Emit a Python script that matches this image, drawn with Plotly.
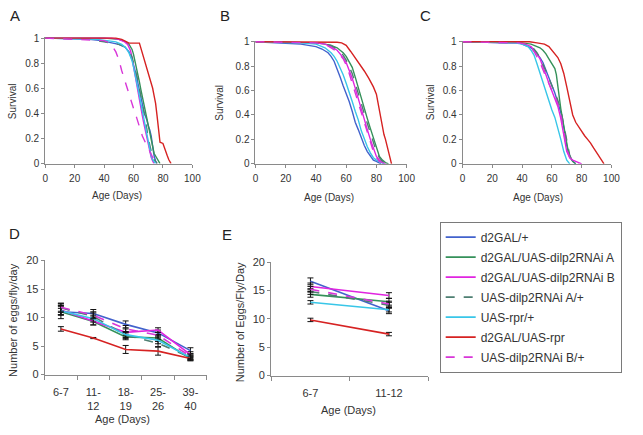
import plotly.graph_objects as go

# ---------------- legend / styles ----------------
names = ["d2GAL/+", "d2GAL/UAS-dilp2RNAi A", "d2GAL/UAS-dilp2RNAi B",
         "UAS-dilp2RNAi A/+", "UAS-rpr/+", "d2GAL/UAS-rpr", "UAS-dilp2RNAi B/+"]
colors = ["#4262CC", "#35915A", "#E024E0", "#4E7F72", "#38C6E8", "#D62222", "#D836D8"]
dashes = ["solid", "solid", "solid", "dash", "solid", "solid", "dash"]

# ---------------- Panel A survival ----------------
A_blue_age = [0, 30, 38, 42, 46, 50, 54, 57, 59, 61, 62, 63, 64, 65, 66, 67, 68, 69, 70, 71, 72, 73, 74, 75, 76]
A_blue_surv = [1, 0.99, 0.98, 0.97, 0.96, 0.95, 0.93, 0.89, 0.83, 0.75, 0.7, 0.64, 0.58, 0.52, 0.46, 0.42, 0.38, 0.35, 0.3, 0.27, 0.22, 0.12, 0.06, 0.02, 0]
A_green_age = [0, 40, 50, 55, 57, 59, 60, 61, 62, 63, 64, 65, 66, 67, 68, 69, 70, 71, 72, 73, 74, 75, 76, 77, 78]
A_green_surv = [1, 1, 0.99, 0.97, 0.95, 0.91, 0.87, 0.82, 0.76, 0.71, 0.65, 0.59, 0.53, 0.48, 0.43, 0.37, 0.3, 0.23, 0.17, 0.12, 0.08, 0.06, 0.04, 0.02, 0]
A_mag_age = [0, 45, 50, 54, 56, 58, 59, 60, 61, 62, 63, 64, 65, 66, 67, 68, 69, 70, 71, 72, 73, 74]
A_mag_surv = [1, 1, 0.99, 0.97, 0.95, 0.9, 0.84, 0.77, 0.7, 0.63, 0.56, 0.5, 0.44, 0.38, 0.32, 0.26, 0.2, 0.14, 0.09, 0.05, 0.02, 0]
A_tealdash_age = [0, 30, 40, 45, 50, 54, 57, 59, 61, 63, 64, 65, 66, 67, 68, 69, 70, 71, 72, 73, 74, 76]
A_tealdash_surv = [1, 0.99, 0.97, 0.96, 0.95, 0.93, 0.9, 0.85, 0.76, 0.66, 0.6, 0.54, 0.48, 0.42, 0.36, 0.28, 0.2, 0.14, 0.1, 0.07, 0.03, 0]
A_cyan_age = [0, 35, 42, 48, 52, 55, 57, 59, 60, 61, 62, 63, 64, 65, 66, 67, 68, 69, 70, 71, 72, 73, 74, 75]
A_cyan_surv = [1, 0.99, 0.98, 0.97, 0.95, 0.92, 0.88, 0.82, 0.77, 0.72, 0.66, 0.6, 0.54, 0.48, 0.42, 0.36, 0.3, 0.24, 0.17, 0.11, 0.06, 0.03, 0.01, 0]
A_red_age = [0, 48, 52, 55, 57, 64, 65, 66, 67, 68, 69, 70, 71, 72, 73, 74, 75, 76, 77, 78, 80, 81, 82, 83, 84, 85.5]
A_red_surv = [1, 1, 0.99, 0.97, 0.96, 0.96, 0.92, 0.88, 0.85, 0.82, 0.78, 0.74, 0.69, 0.64, 0.6, 0.54, 0.48, 0.38, 0.25, 0.17, 0.16, 0.12, 0.09, 0.06, 0.03, 0]
A_magdash_age = [0, 20, 40, 44, 46, 48, 50, 52, 54, 56, 58, 60, 62, 64, 66, 68, 70, 72, 74, 75]
A_magdash_surv = [1, 0.99, 0.98, 0.96, 0.93, 0.89, 0.83, 0.74, 0.66, 0.58, 0.51, 0.44, 0.37, 0.3, 0.22, 0.17, 0.12, 0.07, 0.02, 0]

# ---------------- Panel B survival ----------------
B_blue_age = [0, 20, 30, 40, 44, 48, 50, 52, 54, 56, 58, 60, 62, 64, 66, 68, 70, 72, 74, 76, 78, 80, 82, 83]
B_blue_surv = [1, 0.99, 0.98, 0.96, 0.94, 0.91, 0.88, 0.84, 0.78, 0.71, 0.64, 0.58, 0.51, 0.43, 0.34, 0.28, 0.21, 0.15, 0.1, 0.06, 0.03, 0.02, 0.01, 0]
B_green_age = [0, 40, 46, 50, 54, 58, 60, 62, 64, 66, 68, 70, 72, 74, 76, 78, 80, 82, 84, 86, 88]
B_green_surv = [1, 0.99, 0.98, 0.97, 0.95, 0.91, 0.88, 0.84, 0.79, 0.71, 0.62, 0.54, 0.45, 0.37, 0.29, 0.21, 0.12, 0.06, 0.03, 0.01, 0]
B_mag_age = [0, 40, 46, 50, 54, 58, 60, 62, 64, 66, 68, 70, 72, 74, 76, 78, 80, 82, 84, 86]
B_mag_surv = [1, 0.99, 0.98, 0.96, 0.93, 0.87, 0.83, 0.77, 0.7, 0.62, 0.53, 0.45, 0.36, 0.28, 0.2, 0.12, 0.06, 0.03, 0.01, 0]
B_tealdash_age = [0, 40, 46, 50, 54, 58, 60, 62, 64, 66, 68, 70, 72, 74, 76, 78, 80, 82, 84, 86]
B_tealdash_surv = [1, 0.99, 0.98, 0.97, 0.94, 0.89, 0.85, 0.8, 0.74, 0.66, 0.57, 0.49, 0.41, 0.33, 0.25, 0.17, 0.1, 0.05, 0.02, 0]
B_cyan_age = [0, 30, 40, 46, 50, 52, 54, 56, 58, 60, 62, 64, 66, 68, 70, 72, 74, 76, 78, 80, 82, 84, 85]
B_cyan_surv = [1, 0.99, 0.98, 0.95, 0.91, 0.88, 0.84, 0.79, 0.73, 0.66, 0.59, 0.51, 0.43, 0.36, 0.27, 0.2, 0.14, 0.09, 0.05, 0.03, 0.02, 0.01, 0]
B_red_age = [0, 50, 54, 57, 60, 63, 66, 69, 72, 75, 78, 80, 81, 82, 83, 84, 85, 86, 87, 88, 89, 90]
B_red_surv = [1, 1, 0.995, 0.99, 0.97, 0.92, 0.87, 0.82, 0.76, 0.7, 0.63, 0.57, 0.5, 0.42, 0.35, 0.29, 0.24, 0.2, 0.15, 0.1, 0.05, 0]
B_magdash_age = [0, 40, 46, 50, 54, 58, 60, 62, 64, 66, 68, 70, 72, 74, 76, 78, 80, 82, 84, 86]
B_magdash_surv = [1, 0.99, 0.98, 0.95, 0.92, 0.86, 0.81, 0.74, 0.66, 0.58, 0.5, 0.42, 0.34, 0.26, 0.18, 0.1, 0.05, 0.02, 0.01, 0]

# ---------------- Panel C survival ----------------
C_blue_age = [0, 38, 42, 46, 48, 50, 52, 54, 56, 58, 60, 62, 64, 66, 68, 70, 72, 74, 76]
C_blue_surv = [1, 0.99, 0.97, 0.95, 0.93, 0.9, 0.87, 0.83, 0.77, 0.71, 0.65, 0.58, 0.5, 0.42, 0.3, 0.15, 0.06, 0.02, 0]
C_green_age = [0, 40, 46, 50, 52, 54, 56, 58, 60, 62, 63, 64, 65, 66, 67, 68, 69, 70, 71, 72, 74, 76]
C_green_surv = [1, 0.99, 0.98, 0.96, 0.95, 0.93, 0.9, 0.86, 0.82, 0.78, 0.73, 0.62, 0.52, 0.45, 0.38, 0.31, 0.23, 0.15, 0.1, 0.06, 0.02, 0]
C_mag_age = [0, 38, 42, 46, 48, 50, 52, 54, 56, 58, 60, 62, 64, 66, 67, 68, 69, 70, 72, 74, 76, 78, 80]
C_mag_surv = [1, 0.99, 0.98, 0.96, 0.93, 0.9, 0.86, 0.8, 0.73, 0.66, 0.6, 0.54, 0.47, 0.37, 0.3, 0.22, 0.15, 0.1, 0.05, 0.03, 0.02, 0.01, 0]
C_tealdash_age = [0, 38, 42, 46, 48, 50, 52, 54, 56, 58, 60, 62, 64, 66, 68, 70, 72, 74, 76]
C_tealdash_surv = [1, 0.99, 0.98, 0.96, 0.94, 0.91, 0.87, 0.82, 0.76, 0.7, 0.64, 0.58, 0.52, 0.44, 0.32, 0.18, 0.07, 0.02, 0]
C_cyan_age = [0, 35, 40, 44, 46, 48, 50, 52, 54, 56, 58, 60, 62, 64, 66, 68, 70, 72]
C_cyan_surv = [1, 0.99, 0.98, 0.96, 0.93, 0.89, 0.82, 0.74, 0.66, 0.58, 0.51, 0.44, 0.38, 0.3, 0.2, 0.1, 0.03, 0]
C_red_age = [0, 45, 50, 55, 58, 60, 62, 64, 66, 68, 70, 72, 74, 76, 78, 80, 82, 84, 86, 88, 90, 92, 94, 95]
C_red_surv = [1, 1, 0.99, 0.98, 0.96, 0.93, 0.9, 0.87, 0.82, 0.74, 0.63, 0.5, 0.4, 0.34, 0.3, 0.27, 0.23, 0.2, 0.17, 0.13, 0.09, 0.05, 0.02, 0]
C_magdash_age = [0, 38, 42, 46, 48, 50, 52, 54, 56, 58, 60, 62, 64, 66, 68, 70, 72, 74, 76, 78]
C_magdash_surv = [1, 0.99, 0.98, 0.95, 0.92, 0.88, 0.83, 0.77, 0.71, 0.65, 0.6, 0.55, 0.49, 0.4, 0.25, 0.12, 0.05, 0.02, 0.01, 0]

# ---------------- Panel D fecundity ----------------
D_cats = ["6-7", "11-12", "18-19", "25-26", "39-40"]
D_ticktext = ["6-7", "11-<br>12", "18-<br>19", "25-<br>26", "39-<br>40"]
D_blue = [11.0, 10.7, 8.8, 7.3, 4.2]
D_blue_err = [0.6, 0.7, 0.6, 0.5, 0.5]
D_green = [11.0, 9.3, 6.6, 6.4, 2.8]
D_green_err = [1.2, 0.6, 0.5, 0.6, 0.4]
D_mag = [11.3, 9.4, 7.4, 7.8, 3.5]
D_mag_err = [0.8, 0.7, 0.6, 0.4, 0.5]
D_tealdash = [11.7, 10.2, 6.9, 5.5, 3.0]
D_tealdash_err = [0.8, 0.6, 0.6, 0.6, 0.4]
D_cyan = [11.2, 9.8, 7.0, 6.0, 3.0]
D_cyan_err = [0.7, 0.6, 0.5, 0.6, 0.4]
D_red = [8.0, 6.4, 4.4, 4.1, 2.8]
D_red_err = [0.4, 0.1, 0.7, 0.7, 0.3]
D_magdash = [11.8, 10.4, 8.0, 6.9, 3.2]
D_magdash_err = [0.7, 0.6, 0.6, 0.5, 0.4]

# ---------------- Panel E fecundity ----------------
E_cats = ["6-7", "11-12"]
E_blue = [16.6, 11.4]
E_blue_err = [0.6, 0.5]
E_green = [14.3, 13.0]
E_green_err = [0.5, 0.6]
E_mag = [15.7, 14.1]
E_mag_err = [0.6, 0.5]
E_tealdash = [14.8, 12.4]
E_tealdash_err = [0.5, 0.5]
E_cyan = [12.9, 11.6]
E_cyan_err = [0.3, 0.4]
E_red = [9.8, 7.3]
E_red_err = [0.3, 0.3]
E_magdash = [15.2, 12.6]
E_magdash_err = [0.5, 0.5]

# ---------------- figure ----------------
W, H = 643, 435
FONT = "Liberation Sans, Arial, sans-serif"
fig = go.Figure()

surv_sets = {
    "A": [(A_blue_age, A_blue_surv), (A_green_age, A_green_surv), (A_mag_age, A_mag_surv),
          (A_tealdash_age, A_tealdash_surv), (A_cyan_age, A_cyan_surv), (A_red_age, A_red_surv),
          (A_magdash_age, A_magdash_surv)],
    "B": [(B_blue_age, B_blue_surv), (B_green_age, B_green_surv), (B_mag_age, B_mag_surv),
          (B_tealdash_age, B_tealdash_surv), (B_cyan_age, B_cyan_surv), (B_red_age, B_red_surv),
          (B_magdash_age, B_magdash_surv)],
    "C": [(C_blue_age, C_blue_surv), (C_green_age, C_green_surv), (C_mag_age, C_mag_surv),
          (C_tealdash_age, C_tealdash_surv), (C_cyan_age, C_cyan_surv), (C_red_age, C_red_surv),
          (C_magdash_age, C_magdash_surv)],
}
axis_ids = {"A": ("x", "y"), "B": ("x2", "y2"), "C": ("x3", "y3")}
for panel, series in surv_sets.items():
    xa, ya = axis_ids[panel]
    for i, (ages, surv) in enumerate(series):
        fig.add_trace(go.Scatter(
            x=ages, y=surv, mode="lines",
            line=dict(color=colors[i], width=1.4, dash=dashes[i]),
            xaxis=xa, yaxis=ya, showlegend=False, hoverinfo="skip"))

D_series = [(D_blue, D_blue_err), (D_green, D_green_err), (D_mag, D_mag_err),
            (D_tealdash, D_tealdash_err), (D_cyan, D_cyan_err), (D_red, D_red_err),
            (D_magdash, D_magdash_err)]
for i, (vals, errs) in enumerate(D_series):
    fig.add_trace(go.Scatter(
        x=D_cats, y=vals, mode="lines", name=names[i], legendgroup=names[i],
        line=dict(color=colors[i], width=1.6, dash=dashes[i]),
        error_y=dict(type="data", array=errs, color="#111111", thickness=1, width=3),
        xaxis="x4", yaxis="y4", showlegend=True))

E_series = [(E_blue, E_blue_err), (E_green, E_green_err), (E_mag, E_mag_err),
            (E_tealdash, E_tealdash_err), (E_cyan, E_cyan_err), (E_red, E_red_err),
            (E_magdash, E_magdash_err)]
for i, (vals, errs) in enumerate(E_series):
    fig.add_trace(go.Scatter(
        x=E_cats, y=vals, mode="lines", name=names[i], legendgroup=names[i],
        line=dict(color=colors[i], width=1.6, dash=dashes[i]),
        error_y=dict(type="data", array=errs, color="#111111", thickness=1, width=3),
        xaxis="x5", yaxis="y5", showlegend=False))


def px_dom(a, b, total):
    return [a / total, b / total]


def py_dom(top, bottom):
    return [1 - bottom / H, 1 - top / H]


AX = dict(showline=True, linecolor="#8a8a8a", linewidth=1, ticks="outside",
          ticklen=3, tickcolor="#8a8a8a", showgrid=False, zeroline=False,
          tickfont=dict(family=FONT, size=10, color="#333333"), fixedrange=True)

layout = dict(
    width=W, height=H, margin=dict(l=0, r=0, t=0, b=0),
    paper_bgcolor="white", plot_bgcolor="white",
    font=dict(family=FONT, color="#333333"),
    # panel A
    xaxis=dict(AX, domain=px_dom(43, 193, W), range=[0, 100], dtick=20, anchor="y", ticklabelstandoff=2),
    yaxis=dict(AX, domain=py_dom(32, 162), range=[0, 1.008], tickvals=[0, 0.2, 0.4, 0.6, 0.8, 1], anchor="x"),
    # panel B
    xaxis2=dict(AX, domain=px_dom(257.3, 411.3, W), range=[0, 100], dtick=20, anchor="y2", ticklabelstandoff=2),
    yaxis2=dict(AX, domain=py_dom(35.7, 162.3), range=[0, 1.008], tickvals=[0, 0.2, 0.4, 0.6, 0.8, 1], anchor="x2"),
    # panel C
    xaxis3=dict(AX, domain=px_dom(468.3, 620, W), range=[0, 100], dtick=20, anchor="y3", ticklabelstandoff=2),
    yaxis3=dict(AX, domain=py_dom(35.7, 162.3), range=[0, 1.008], tickvals=[0, 0.2, 0.4, 0.6, 0.8, 1], anchor="x3"),
    # panel D
    xaxis4=dict(AX, domain=px_dom(42.5, 207.5, W), type="category", range=[-0.5, 4.5],
                tickson="boundaries", ticklen=4, tickvals=D_cats, ticktext=D_ticktext,
                ticklabelstandoff=7,
                tickfont=dict(family=FONT, size=11, color="#333333"), anchor="y4"),
    yaxis4=dict(AX, domain=py_dom(261.7, 379), range=[0, 20], dtick=5,
                tickfont=dict(family=FONT, size=11, color="#333333"), anchor="x4"),
    # panel E
    xaxis5=dict(AX, domain=px_dom(273.3, 433.3, W), type="category", range=[-0.5, 1.5],
                tickson="boundaries", ticklen=4, ticklabelstandoff=7,
                tickfont=dict(family=FONT, size=11, color="#333333"), anchor="y5"),
    yaxis5=dict(AX, domain=py_dom(263.3, 380), range=[0, 20], dtick=5,
                tickfont=dict(family=FONT, size=11, color="#333333"), anchor="x5"),
    legend=dict(x=445 / W, y=1 - 221.7 / H, xanchor="left", yanchor="top",
                bgcolor="white", bordercolor="#7a7a7a", borderwidth=1,
                font=dict(family=FONT, size=12, color="#333333"),
                traceorder="grouped", tracegroupgap=1, itemwidth=30),
)
fig.update_layout(**layout)


def ann(text, x, y, size, angle=0, color="#333333"):
    fig.add_annotation(text=text, x=x / W, y=1 - y / H, xref="paper", yref="paper",
                       showarrow=False, textangle=angle, xanchor="center", yanchor="middle",
                       font=dict(family=FONT, size=size, color=color))


# panel letters
ann("A", 12, 9.5, 15, color="#222222")
ann("B", 226, 9.5, 15, color="#222222")
ann("C", 431, 9.5, 15, color="#222222")
ann("D", 11.5, 233.5, 15, color="#222222")
ann("E", 228, 235, 15, color="#222222")

# axis titles
ann("Survival", 9.5, 97.5, 10, angle=-90)
ann("Survival", 220.5, 99, 10, angle=-90)
ann("Survival", 435, 99, 10, angle=-90)
ann("Age (Days)", 116, 195, 10)
ann("Age (Days)", 332, 197, 10)
ann("Age (Days)", 545, 197, 10)
ann("Number of eggs/fly/day", 10, 323, 11, angle=-90)
ann("Age (Days)", 122, 425, 11)
ann("Number of Eggs/Fly/Day", 241.7, 325, 11, angle=-90)
ann("Age (Days)", 352, 415, 11)

fig.write_html("out.html", config={"displayModeBar": False},
               post_script="document.body.style.margin='0';document.body.style.overflow='hidden';")
